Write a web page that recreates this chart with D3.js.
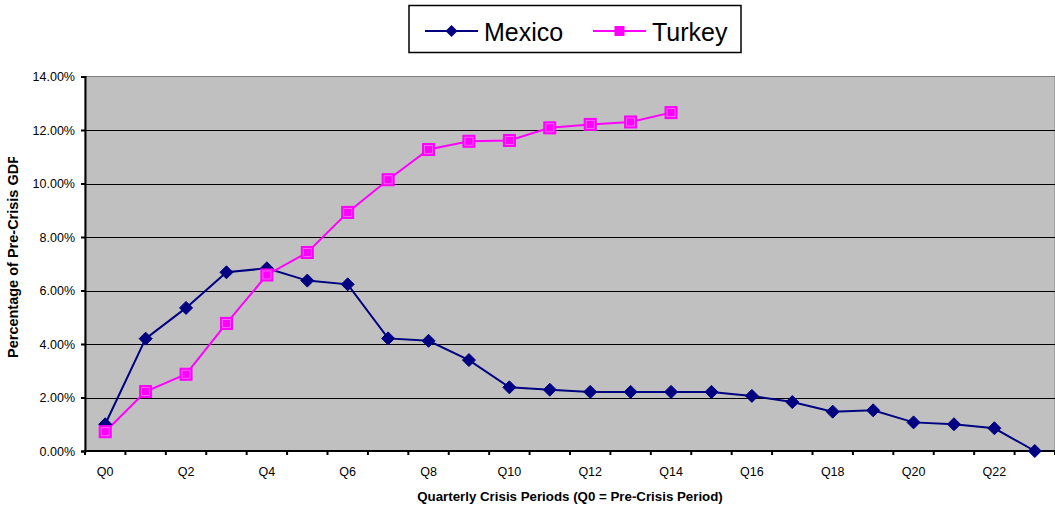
<!DOCTYPE html>
<html>
<head>
<meta charset="utf-8">
<script src="https://cdn.jsdelivr.net/npm/d3@7"></script>
<style>
  html, body { margin: 0; padding: 0; background: #fff; }
  svg { display: block; font-family: Arial, "Liberation Sans", sans-serif; }
</style>
</head>
<body>
<svg id="chart" width="1055" height="512"></svg>
<script>
// Quarterly crisis periods Q0..Q23
const periods = d3.range(24).map(i => "Q" + i);
// Cumulative values, % of pre-crisis GDP
const mexico = [1.00, 4.20, 5.35, 6.68, 6.83, 6.37, 6.23, 4.21, 4.12, 3.40, 2.38, 2.29, 2.21, 2.21, 2.21, 2.21, 2.06, 1.83, 1.47, 1.52, 1.07, 1.00, 0.85, 0.00];
const turkey = [0.72, 2.22, 2.87, 4.77, 6.58, 7.42, 8.92, 10.14, 11.27, 11.58, 11.61, 12.08, 12.21, 12.30, 12.65];
const yTicks = [0, 2, 4, 6, 8, 10, 12, 14];
const xTickLabels = periods.filter((d, i) => i % 2 === 0);

const svg = d3.select("#chart");
const plotLeft = 85, plotRight = 1055, plotTop = 76.5, plotBottom = 451;

const x = d3.scaleBand().domain(periods).range([plotLeft, plotRight]).padding(0);
const y = d3.scaleLinear().domain([0, 14]).range([plotBottom, plotTop]);

// plot area
svg.append("rect")
  .attr("x", plotLeft).attr("y", plotTop)
  .attr("width", plotRight - plotLeft).attr("height", plotBottom - plotTop)
  .attr("fill", "#c0c0c0").attr("stroke", "#808080").attr("stroke-width", 1);

// horizontal gridlines
svg.append("g").selectAll("line")
  .data(yTicks.filter(t => t > 0 && t < 14))
  .join("line")
  .attr("x1", plotLeft).attr("x2", plotRight)
  .attr("y1", d => Math.round(y(d)) + 0.5).attr("y2", d => Math.round(y(d)) + 0.5)
  .attr("stroke", "#000").attr("stroke-width", 1);

// y axis
const yAxis = d3.axisLeft(y).tickValues(yTicks)
  .tickFormat(d => d.toFixed(2) + "%").tickSize(4).tickPadding(6);
const gy = svg.append("g").attr("transform", `translate(${plotLeft},0)`).call(yAxis);
gy.select(".domain").attr("stroke", "#000").attr("stroke-width", 2);
gy.selectAll(".tick line").attr("stroke", "#000").attr("stroke-width", 2);
gy.selectAll(".tick text").attr("font-size", 12.5).attr("fill", "#000")
  .attr("font-family", "Arial, 'Liberation Sans', sans-serif");

// x axis: tick marks at category boundaries, labels on every other period
const boundaries = periods.map(p => x(p)).concat([plotRight]);
const gx = svg.append("g");
gx.append("line")
  .attr("x1", plotLeft - 1).attr("x2", plotRight)
  .attr("y1", plotBottom).attr("y2", plotBottom)
  .attr("stroke", "#000").attr("stroke-width", 2);
gx.selectAll("line.tk").data(boundaries).join("line")
  .attr("class", "tk")
  .attr("x1", d => d).attr("x2", d => d)
  .attr("y1", plotBottom).attr("y2", plotBottom + 4)
  .attr("stroke", "#000").attr("stroke-width", 2);
gx.selectAll("text").data(xTickLabels).join("text")
  .attr("x", d => x(d) + x.bandwidth() / 2)
  .attr("y", 476)
  .attr("text-anchor", "middle")
  .attr("font-size", 12.5)
  .text(d => d);

// axis titles
svg.append("text")
  .attr("x", 570).attr("y", 501)
  .attr("text-anchor", "middle")
  .attr("font-size", 13.3).attr("font-weight", "bold")
  .text("Quarterly Crisis Periods (Q0 = Pre-Crisis Period)");

// y title sits in a clipped group; its top end is cut off by the clip
svg.append("clipPath").attr("id", "ytitle-clip")
  .append("rect").attr("x", 0).attr("y", 157).attr("width", 30).attr("height", 300);
svg.append("g")
  .attr("clip-path", "url(#ytitle-clip)")
  .append("text")
  .attr("transform", "translate(18,358) rotate(-90)")
  .attr("text-anchor", "start")
  .attr("font-size", 14.5).attr("font-weight", "bold")
  .text("Percentage of Pre-Crisis GDP");

// series
const cx = (d, i) => x(periods[i]) + x.bandwidth() / 2;
const line = d3.line().x((d, i) => cx(d, i)).y(d => y(d));

svg.append("path").datum(mexico)
  .attr("d", line).attr("fill", "none")
  .attr("stroke", "#000080").attr("stroke-width", 2);
svg.append("path").datum(turkey)
  .attr("d", line).attr("fill", "none")
  .attr("stroke", "#ff00ff").attr("stroke-width", 2);

const diamond = s => `M0,${-s}L${s},0L0,${s}L${-s},0Z`;

svg.append("g").selectAll("path").data(mexico).join("path")
  .attr("transform", (d, i) => `translate(${cx(d, i)},${y(d)})`)
  .attr("d", diamond(6.5))
  .attr("fill", "#000080").attr("stroke", "#000080").attr("stroke-width", 1);

const tk = svg.append("g").selectAll("g").data(turkey).join("g")
  .attr("transform", (d, i) => `translate(${cx(d, i)},${y(d)})`);
tk.append("rect")
  .attr("x", -6).attr("y", -6).attr("width", 12).attr("height", 12)
  .attr("fill", "#ff00ff").attr("stroke", "#ff00ff").attr("stroke-width", 1);
tk.append("rect")
  .attr("x", -4).attr("y", -4).attr("width", 8).attr("height", 8)
  .attr("fill", "none").attr("stroke", "#ff70ff").attr("stroke-width", 0.8);

// legend
const lg = svg.append("g");
lg.append("rect")
  .attr("x", 409).attr("y", 5.5).attr("width", 332).attr("height", 47)
  .attr("fill", "#fff").attr("stroke", "#000").attr("stroke-width", 1.5);
const legendItems = [
  { name: "Mexico", color: "#000080", x0: 425 },
  { name: "Turkey", color: "#ff00ff", x0: 593 }
];
legendItems.forEach(it => {
  lg.append("line")
    .attr("x1", it.x0).attr("x2", it.x0 + 53)
    .attr("y1", 31).attr("y2", 31)
    .attr("stroke", it.color).attr("stroke-width", 2);
  const mx = it.x0 + 26.5;
  if (it.name === "Mexico") {
    lg.append("path").attr("transform", `translate(${mx},31)`)
      .attr("d", diamond(6)).attr("fill", it.color);
  } else {
    lg.append("rect").attr("x", mx - 5).attr("y", 26).attr("width", 10).attr("height", 10)
      .attr("fill", it.color);
  }
  lg.append("text")
    .attr("x", it.x0 + 59).attr("y", 41)
    .attr("font-size", 25)
    .text(it.name);
});
</script>
</body>
</html>
